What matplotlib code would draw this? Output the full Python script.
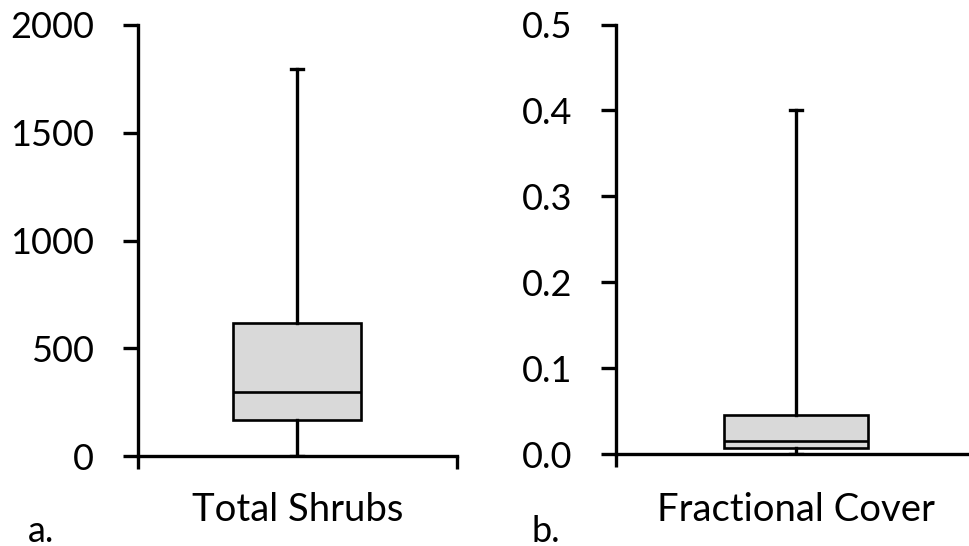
import matplotlib
matplotlib.use('Agg')
import matplotlib.pyplot as plt

plt.rcParams['font.family'] = ['Lato', 'DejaVu Sans']

# Five-number summaries for the two panels
names = ['Total Shrubs', 'Fractional Cover']
panel_tags = ['a.', 'b.']
lows = [0, 0.0]
q1s = [167, 0.0066]
medians = [298, 0.0151]
q3s = [619, 0.0454]
highs = [1795, 0.400]
y_limits = [(0, 2000), (0, 0.5)]
y_ticks = [[0, 500, 1000, 1500, 2000], [0.0, 0.1, 0.2, 0.3, 0.4, 0.5]]
y_fmt = ['{:.0f}', '{:.1f}']

W, H = 969, 546
fig = plt.figure(figsize=(W / 100, H / 100), dpi=100, facecolor='white')

# axes rectangles in pixels: left, right, y of zero line, y of top tick
boxes_px = [(137.5, 457, 456, 25), (616, 976, 454, 24.5)]
tag_x = [28, 532]

for i in range(2):
    l, r, y0, y1 = boxes_px[i]
    ax = fig.add_axes([l / W, 1 - y0 / H, (r - l) / W, (y0 - y1) / H])
    ax.patch.set_alpha(0)
    stats = [dict(whislo=lows[i], q1=q1s[i], med=medians[i], q3=q3s[i],
                  whishi=highs[i], fliers=[])]
    ax.bxp(stats, positions=[1], widths=0.4, capwidths=0.036,
           patch_artist=True, showfliers=False,
           boxprops=dict(facecolor='#d9d9d9', edgecolor='black', linewidth=1.9),
           medianprops=dict(color='black', linewidth=1.9),
           whiskerprops=dict(color='black', linewidth=2.4),
           capprops=dict(color='black', linewidth=2.4))
    ax.set_xlim(0.5, 1.5)
    ax.set_ylim(*y_limits[i])
    ax.set_xticks([0.5, 1.5])
    ax.set_xticklabels([])
    ax.set_yticks(y_ticks[i])
    ax.set_yticklabels([y_fmt[i].format(v) for v in y_ticks[i]])
    ax.tick_params(axis='y', direction='out', length=10.5, width=2.4,
                   pad=21, labelsize=26, colors='black')
    ax.tick_params(axis='x', direction='out', length=9, width=2.4)
    for s in ['top', 'right']:
        ax.spines[s].set_visible(False)
    for s in ['left', 'bottom']:
        ax.spines[s].set_linewidth(2.4)
    ax.spines['bottom'].set_zorder(0.5)

    # category name centred under the box
    ax.text(1, -(510 - y0) / (y0 - y1), names[i], fontsize=27.5,
            ha='center', va='center', transform=ax.get_xaxis_transform())
    fig.text(tag_x[i] / W, 1 - 531 / H, panel_tags[i], fontsize=26,
             ha='left', va='center')

fig.savefig('out.png', dpi=100, facecolor='white')
